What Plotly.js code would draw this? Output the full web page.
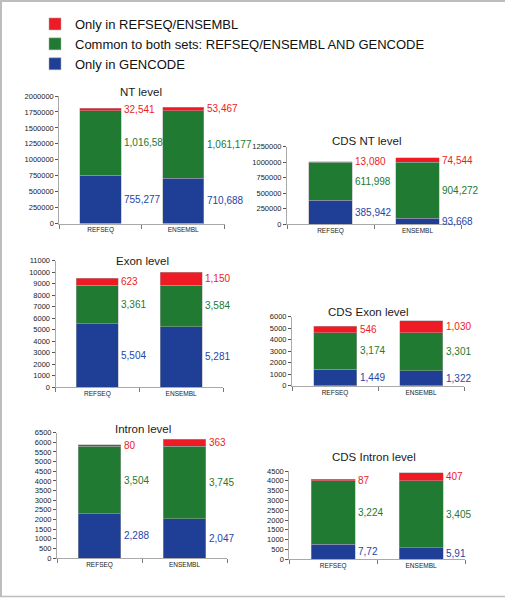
<!DOCTYPE html>
<html>
<head>
<meta charset="utf-8">
<script src="https://cdn.plot.ly/plotly-3.0.1.min.js"></script>
<style>html,body{margin:0;padding:0;background:#fff;}#chart{width:505px;height:600px;}</style>
</head>
<body>
<div id="chart"></div>
<script>
// ---- data ----
const categories = ['REFSEQ', 'ENSEMBL'];
const seriesNames = ['Only in GENCODE', 'Common to both sets: REFSEQ/ENSEMBL AND GENCODE', 'Only in REFSEQ/ENSEMBL'];

const ntBlue = [755277, 710688];
const ntGreen = [1016588, 1061177];
const ntRed = [32541, 53467];

const cdsNtBlue = [385942, 93668];
const cdsNtGreen = [611998, 904272];
const cdsNtRed = [13080, 74544];

const exonBlue = [5504, 5281];
const exonGreen = [3361, 3584];
const exonRed = [623, 1150];

const cdsExonBlue = [1449, 1322];
const cdsExonGreen = [3174, 3301];
const cdsExonRed = [546, 1030];

const intronBlue = [2288, 2047];
const intronGreen = [3504, 3745];
const intronRed = [80, 363];

const cdsIntronBlue = [772, 591];
const cdsIntronGreen = [3224, 3405];
const cdsIntronRed = [87, 407];
const cdsIntronBlueLabels = ['7,72', '5,91'];

const panelTitles = ['NT level', 'CDS NT level', 'Exon level', 'CDS Exon level', 'Intron level', 'CDS Intron level'];

// ---- layout / style ----
const W = 505, H = 600;
const colors = ['#1f3f97', '#217a32', '#ee1b25'];
const labelColors = ['#2446a8', '#217a32', '#ee1b25'];
const FONT = 'Liberation Sans, Arial, sans-serif';

const panels = [
  {title: panelTitles[0], s: [ntBlue, ntGreen, ntRed], ymax: 2000000, dtick: 250000, x: [59.3, 224.5], y: [96, 223.5], tx: 141, ty: 92},
  {title: panelTitles[1], s: [cdsNtBlue, cdsNtGreen, cdsNtRed], ymax: 1250000, dtick: 250000, x: [287, 461], y: [146.7, 224.3], tx: 366, ty: 141},
  {title: panelTitles[2], s: [exonBlue, exonGreen, exonRed], ymax: 11000, dtick: 1000, x: [55.5, 223], y: [260.7, 387.3], tx: 142.5, ty: 260.7},
  {title: panelTitles[3], s: [cdsExonBlue, cdsExonGreen, cdsExonRed], ymax: 6000, dtick: 1000, x: [292, 464], y: [316.7, 385.7], tx: 368, ty: 311.7},
  {title: panelTitles[4], s: [intronBlue, intronGreen, intronRed], ymax: 6500, dtick: 500, x: [57, 227], y: [432.7, 558], tx: 143, ty: 429},
  {title: panelTitles[5], s: [cdsIntronBlue, cdsIntronGreen, cdsIntronRed], ymax: 4500, dtick: 500, x: [289.3, 465], y: [471, 559.3], tx: 374, ty: 457.3,
   labels: [cdsIntronBlueLabels, null, null]}
];

const fmt = v => v.toLocaleString('en-US');

const traces = [];
const annotations = [];
const layout = {
  width: W, height: H,
  margin: {l: 0, r: 0, t: 0, b: 0},
  paper_bgcolor: '#fff', plot_bgcolor: 'rgba(0,0,0,0)',
  barmode: 'stack', bargap: 0.5,
  font: {family: FONT, color: '#222'},
  showlegend: true,
  legend: {x: 35 / W, y: 1 - 9 / H, xanchor: 'left', yanchor: 'top', traceorder: 'reversed',
           font: {family: FONT, size: 13, color: '#111'}, bgcolor: 'rgba(0,0,0,0)', tracegroupgap: 0},
  shapes: [
    {type: 'line', xref: 'paper', yref: 'paper', x0: 0, x1: 1, y0: 1 - 1 / H, y1: 1 - 1 / H, line: {color: '#bdbdbd', width: 2}},
    {type: 'line', xref: 'paper', yref: 'paper', x0: 1 / W, x1: 1 / W, y0: 1 - 596.5 / H, y1: 1, line: {color: '#bdbdbd', width: 2}},
    {type: 'line', xref: 'paper', yref: 'paper', x0: 0, x1: 1, y0: 1 - 596.5 / H, y1: 1 - 596.5 / H, line: {color: '#bdbdbd', width: 1.5}}
  ],
  annotations: annotations
};

panels.forEach((p, i) => {
  const sfx = i === 0 ? '' : String(i + 1);
  const xa = 'x' + sfx, ya = 'y' + sfx;
  layout['xaxis' + sfx] = {
    domain: [p.x[0] / W, p.x[1] / W], anchor: ya, type: 'category',
    categoryorder: 'array', categoryarray: categories, range: [-0.5, 1.5],
    tickson: 'boundaries', ticks: 'outside', ticklen: 4, tickcolor: '#777', tickwidth: 1,
    showline: true, linecolor: '#aaa', linewidth: 1, showgrid: false, zeroline: false,
    tickfont: {family: FONT, size: 6.5, color: '#222'}, fixedrange: true
  };
  layout['yaxis' + sfx] = {
    domain: [1 - p.y[1] / H, 1 - p.y[0] / H], anchor: xa, range: [0, p.ymax],
    tick0: 0, dtick: p.dtick, tickformat: 'd', ticks: 'outside', ticklen: 3, tickcolor: '#555',
    showline: true, linecolor: '#aaa', linewidth: 1, showgrid: false, zeroline: false,
    tickfont: {family: FONT, size: 7.5, color: '#222'}, fixedrange: true
  };
  const cum = [0, 0];
  p.s.forEach((vals, k) => {
    traces.push({
      type: 'bar', x: categories, y: vals, xaxis: xa, yaxis: ya,
      name: seriesNames[k], showlegend: i === 0,
      marker: {color: colors[k], line: {color: '#a8a8a8', width: 0.5}},
      hoverinfo: 'y+name'
    });
    vals.forEach((v, j) => {
      const mid = cum[j] + v / 2;
      cum[j] += v;
      const txt = (p.labels && p.labels[k]) ? p.labels[k][j] : fmt(v);
      annotations.push({
        xref: xa, yref: ya, x: j + 0.25, y: mid, xanchor: 'left', yanchor: 'middle', xshift: 1,
        text: txt, showarrow: false, font: {family: FONT, size: 10, color: labelColors[k]}
      });
    });
  });
  annotations.push({
    xref: 'paper', yref: 'paper', x: p.tx / W, y: 1 - p.ty / H, xanchor: 'center', yanchor: 'middle',
    text: p.title, showarrow: false, font: {family: FONT, size: 11.5, color: '#1a1a1a'}
  });
});

Plotly.newPlot('chart', traces, layout, {displayModeBar: false, staticPlot: true});
</script>
</body>
</html>
